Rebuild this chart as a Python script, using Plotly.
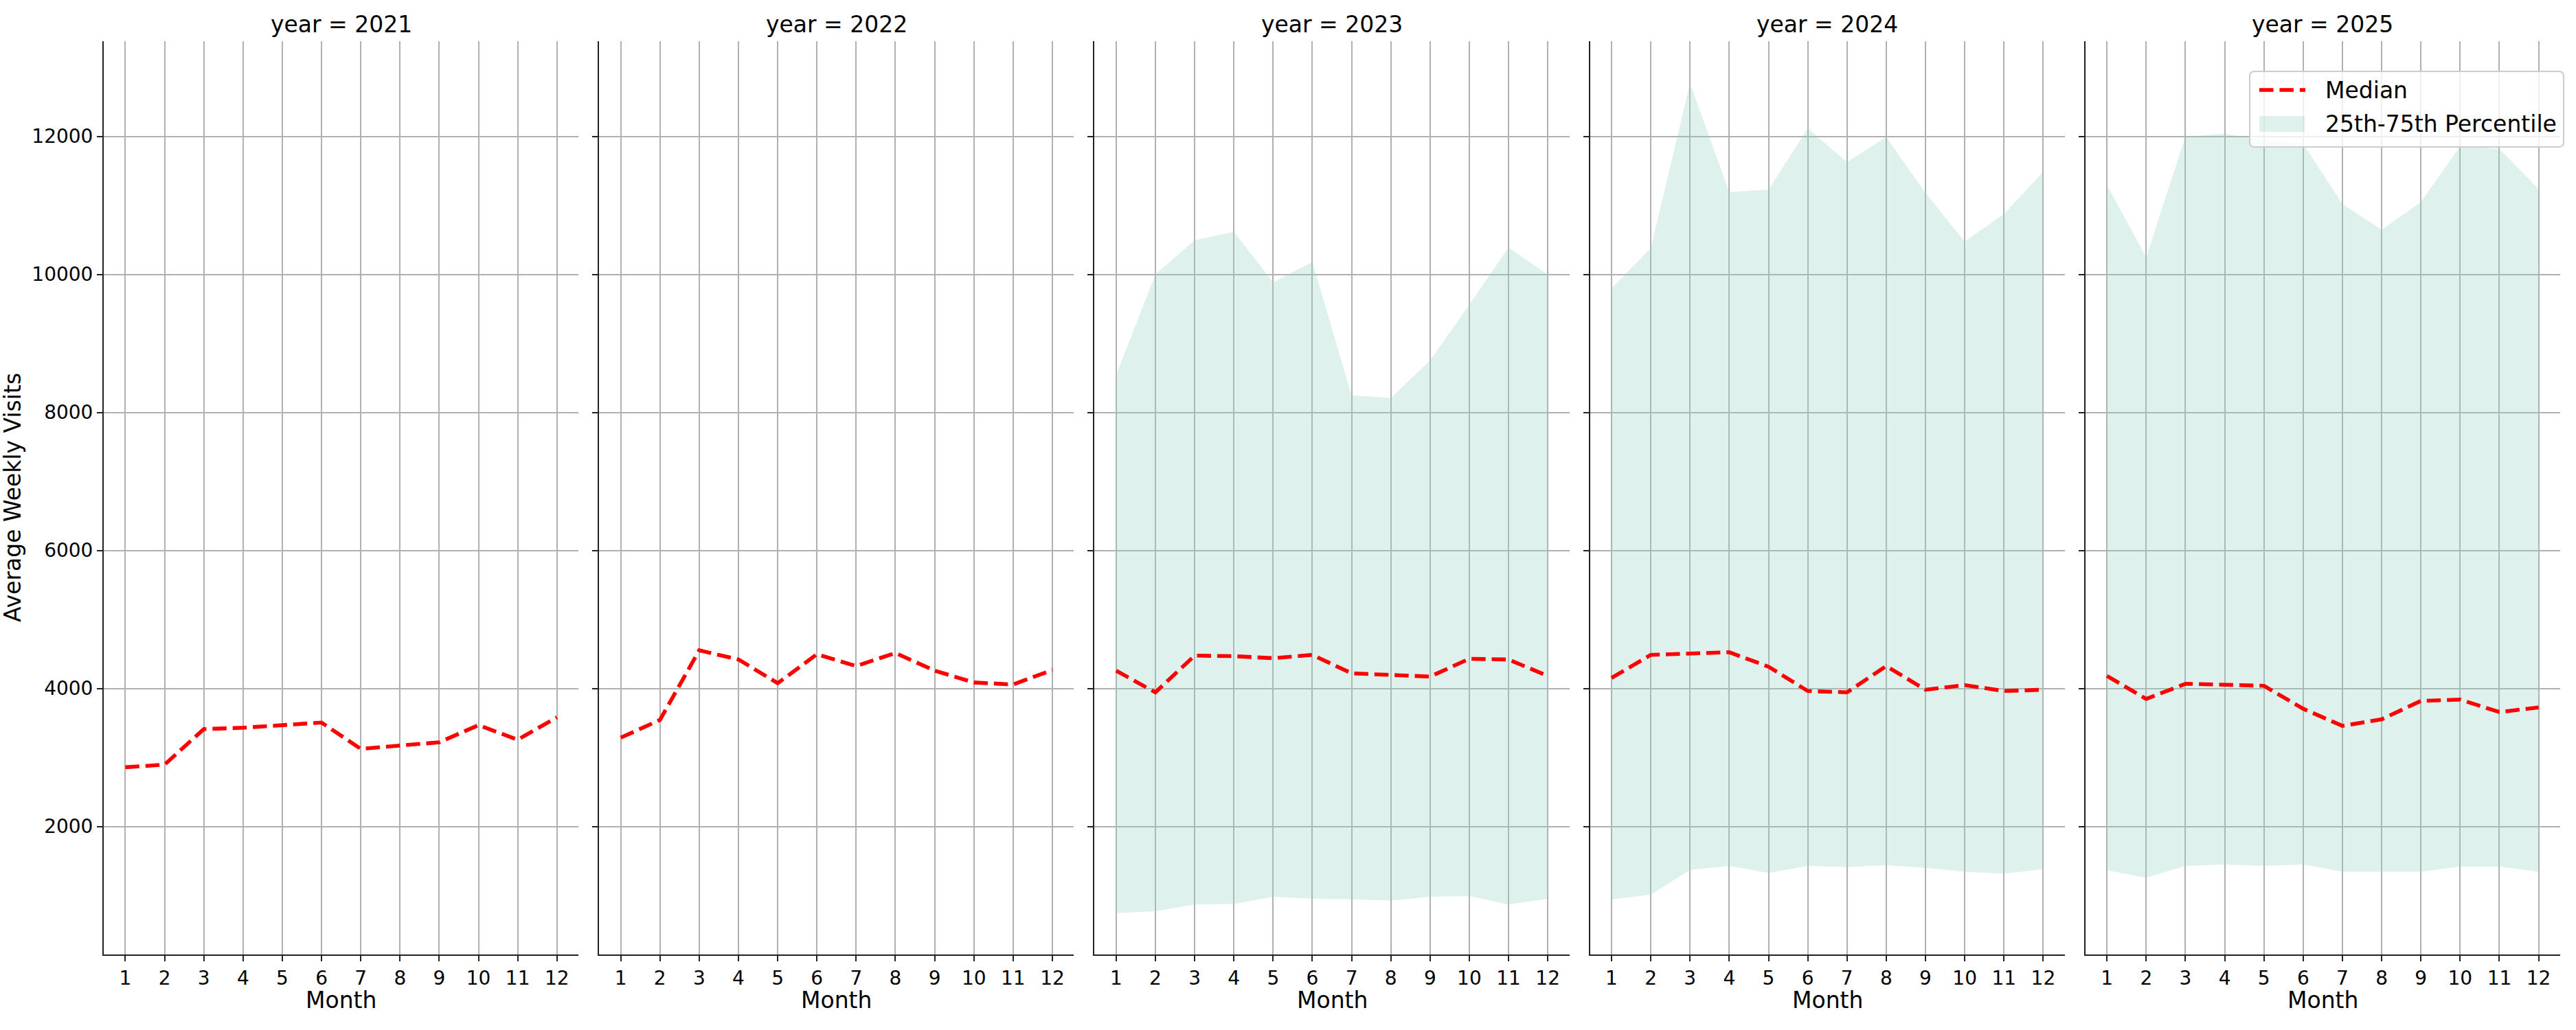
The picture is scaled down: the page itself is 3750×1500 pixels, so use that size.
import plotly.graph_objects as go
from plotly.subplots import make_subplots

# ---------------- data ----------------
years = [2021, 2022, 2023, 2024, 2025]
months = [1, 2, 3, 4, 5, 6, 7, 8, 9, 10, 11, 12]
month_labels = ["1", "2", "3", "4", "5", "6", "7", "8", "9", "10", "11", "12"]
y_ticks = [2000, 4000, 6000, 8000, 10000, 12000]

median_2021 = [2857, 2895, 3410, 3430, 3467, 3505, 3124, 3171, 3219, 3467, 3257, 3581]
median_2022 = [3286, 3543, 4552, 4419, 4076, 4495, 4324, 4514, 4257, 4086, 4057, 4267]
median_2023 = [4257, 3943, 4476, 4467, 4438, 4486, 4219, 4200, 4171, 4429, 4419, 4181]
median_2024 = [4152, 4486, 4505, 4524, 4314, 3962, 3943, 4324, 3981, 4048, 3962, 3981]
median_2025 = [4181, 3848, 4067, 4048, 4038, 3705, 3457, 3552, 3819, 3838, 3657, 3724]

p25_2023 = [743, 771, 867, 876, 981, 952, 943, 924, 981, 990, 867, 952]
p75_2023 = [8543, 10000, 10495, 10619, 9886, 10181, 8248, 8210, 8752, 9562, 10390, 10000]
p25_2024 = [943, 1010, 1371, 1429, 1324, 1429, 1410, 1438, 1400, 1343, 1314, 1381]
p75_2024 = [9800, 10381, 12771, 11190, 11229, 12114, 11629, 11990, 11181, 10476, 10876, 11486]
p25_2025 = [1362, 1257, 1429, 1448, 1429, 1448, 1343, 1343, 1343, 1419, 1419, 1343]
p75_2025 = [11295, 10248, 12000, 12038, 11950, 11895, 11019, 10648, 11048, 11857, 11819, 11238]

medians = {2021: median_2021, 2022: median_2022, 2023: median_2023,
           2024: median_2024, 2025: median_2025}
p25 = {2023: p25_2023, 2024: p25_2024, 2025: p25_2025}
p75 = {2023: p75_2023, 2024: p75_2024, 2025: p75_2025}

# ---------------- layout constants ----------------
W, H = 3750, 1500
ML, MR, MT, MB = 151, 23, 60, 110
PW, PH = W - ML - MR, H - MT - MB
FONT = "DejaVu Sans"
FILL = "rgba(150,210,195,0.3)"
RED = "#ff0000"
DASH = "20.5px,8.9px"
AXC = "#222222"

def px_x(px):
    return (px - ML) / PW

def px_y(py):
    return (H - MB - py) / PH

fig = make_subplots(rows=1, cols=5, shared_yaxes=True,
                    horizontal_spacing=30 / PW)

for i, yr in enumerate(years, start=1):
    if yr in p25:
        fig.add_trace(go.Scatter(x=months, y=p25[yr], mode="lines",
                                 line=dict(width=0, color=FILL),
                                 showlegend=False, hoverinfo="skip"),
                      row=1, col=i)
        fig.add_trace(go.Scatter(x=months, y=p75[yr], mode="lines",
                                 line=dict(width=0, color=FILL),
                                 fill="tonexty", fillcolor=FILL,
                                 name="25th-75th Percentile",
                                 showlegend=False, hoverinfo="skip"),
                      row=1, col=i)
    fig.add_trace(go.Scatter(x=months, y=medians[yr], mode="lines",
                             line=dict(color=RED, width=5.6, dash=DASH),
                             name="Median", showlegend=False),
                  row=1, col=i)

for i in range(1, 6):
    fig.update_xaxes(row=1, col=i, range=[0.45, 12.55], tickmode="array",
                     tickvals=months, ticktext=month_labels,
                     showgrid=True, gridcolor="#b0b0b0", gridwidth=2,
                     showline=True, linecolor=AXC, linewidth=2,
                     ticks="outside", ticklen=8, tickwidth=2, tickcolor=AXC,
                     tickfont=dict(family=FONT, size=28, color="black"),
                     zeroline=False, mirror=False)
    fig.update_yaxes(row=1, col=i, range=[144, 13380], tickmode="array",
                     tickvals=y_ticks, ticktext=[str(v) for v in y_ticks],
                     showgrid=True, gridcolor="#b0b0b0", gridwidth=2,
                     showline=True, linecolor=AXC, linewidth=2,
                     ticks="outside", ticklen=8, tickwidth=2, tickcolor=AXC,
                     tickfont=dict(family=FONT, size=28, color="black"),
                     zeroline=False, mirror=False,
                     showticklabels=(i == 1))

annotations = []
domains = [fig.layout["xaxis" + ("" if i == 1 else str(i))].domain for i in range(1, 6)]
for yr, dom in zip(years, domains):
    cx = (dom[0] + dom[1]) / 2
    annotations.append(dict(text=f"year = {yr}", x=cx, y=px_y(36), xref="paper", yref="paper",
                            xanchor="center", yanchor="middle", showarrow=False,
                            font=dict(family=FONT, size=33, color="black")))
    annotations.append(dict(text="Month", x=cx, y=px_y(1457), xref="paper", yref="paper",
                            xanchor="center", yanchor="middle", showarrow=False,
                            font=dict(family=FONT, size=33, color="black")))
annotations.append(dict(text="Average Weekly Visits", x=px_x(18), y=px_y(725),
                        xref="paper", yref="paper", xanchor="center", yanchor="middle",
                        textangle=-90, showarrow=False,
                        font=dict(family=FONT, size=33, color="black")))

# legend (drawn as a matplotlib-style rounded box)
bx0, bx1, by0, by1 = 3275, 3732, 104, 214
r = 7
rx, ry = r / PW, r / PH
X0, X1, Y0, Y1 = px_x(bx0), px_x(bx1), px_y(by1), px_y(by0)
path = (f"M{X0+rx},{Y0} L{X1-rx},{Y0} Q{X1},{Y0} {X1},{Y0+ry} "
        f"L{X1},{Y1-ry} Q{X1},{Y1} {X1-rx},{Y1} L{X0+rx},{Y1} "
        f"Q{X0},{Y1} {X0},{Y1-ry} L{X0},{Y0+ry} Q{X0},{Y0} {X0+rx},{Y0} Z")
shapes = [
    dict(type="path", path=path, xref="paper", yref="paper", layer="above",
         fillcolor="rgba(255,255,255,0.8)", line=dict(color="#cccccc", width=2)),
    dict(type="line", xref="paper", yref="paper", layer="above",
         x0=px_x(3289), x1=px_x(3356), y0=px_y(131), y1=px_y(131),
         line=dict(color=RED, width=5.6, dash=DASH)),
    dict(type="rect", xref="paper", yref="paper", layer="above",
         x0=px_x(3289), x1=px_x(3355), y0=px_y(192), y1=px_y(169),
         fillcolor=FILL, line=dict(width=0)),
]
annotations.append(dict(text="Median", x=px_x(3383), y=px_y(131), xref="paper", yref="paper",
                        xanchor="left", yanchor="middle", showarrow=False,
                        font=dict(family=FONT, size=33, color="black")))
annotations.append(dict(text="25th-75th Percentile", x=px_x(3383), y=px_y(180),
                        xref="paper", yref="paper", xanchor="left", yanchor="middle",
                        showarrow=False, font=dict(family=FONT, size=33, color="black")))

fig.update_layout(width=W, height=H, margin=dict(l=ML, r=MR, t=MT, b=MB),
                  plot_bgcolor="white", paper_bgcolor="white",
                  showlegend=False, annotations=annotations, shapes=shapes,
                  font=dict(family=FONT, color="black"))

fig.write_html("out.html", config={"displayModeBar": False},
               post_script="document.body.style.margin='0';document.body.style.padding='0';")
